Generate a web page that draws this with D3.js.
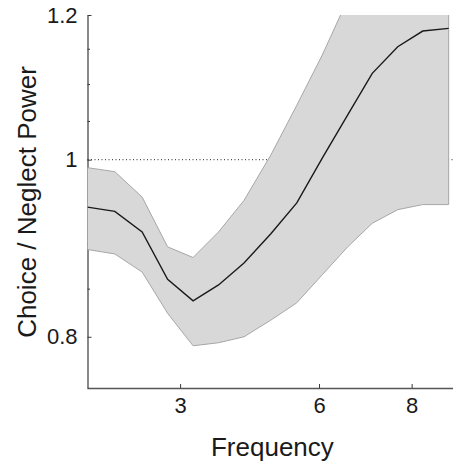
<!DOCTYPE html>
<html>
<head>
<meta charset="utf-8">
<script src="https://cdn.jsdelivr.net/npm/d3@7"></script>
<style>
  html, body { margin: 0; padding: 0; background: #fff; }
  svg { display: block; }
  text { font-family: "Liberation Sans", Arial, Helvetica, sans-serif; fill: #1a1a1a; }
</style>
</head>
<body>
<svg id="chart" width="453" height="463"></svg>
<script>
// Data
const frequency = [1.0, 1.59, 2.18, 2.73, 3.28, 3.83, 4.38, 4.96, 5.52, 6.07, 6.62, 7.15, 7.70, 8.24, 8.80];
const meanPower = [0.942, 0.937, 0.913, 0.860, 0.837, 0.854, 0.878, 0.911, 0.947, 1.002, 1.058, 1.115, 1.153, 1.176, 1.180];
const upperBound = [0.990, 0.985, 0.954, 0.896, 0.884, 0.913, 0.950, 1.006, 1.071, 1.141, 1.224, 1.30, 1.36, 1.40, 1.42];
const lowerBound = [0.893, 0.888, 0.868, 0.824, 0.791, 0.794, 0.800, 0.817, 0.835, 0.865, 0.896, 0.923, 0.939, 0.945, 0.945];
const xTicks = [3, 6, 8];
const yMajorTicks = [0.8, 1, 1.2];
const yMinorTicks = [0.85, 0.9, 0.95, 1.05, 1.1, 1.15];
const referenceLevel = 1;

const svg = d3.select("#chart");
const mLeft = 87.5, mRight = 453.3, mTop = 15, mBottom = 388;

const x = d3.scaleLinear().domain([1, 8.9]).range([mLeft, mRight]);
const y = d3.scaleLog().domain([0.75, 1.2]).range([mBottom, mTop]);

const data = frequency.map((f, i) => ({ f, m: meanPower[i], u: upperBound[i], l: lowerBound[i] }));

svg.append("defs").append("clipPath").attr("id", "clip")
  .append("rect").attr("x", mLeft).attr("y", mTop).attr("width", mRight - mLeft).attr("height", mBottom - mTop);

// Axes
const axisColor = "#3a3a3a";
const xAxis = svg.append("g").attr("transform", `translate(0,${mBottom})`)
  .call(d3.axisBottom(x).tickValues(xTicks).tickFormat(d3.format("d")).tickSizeInner(-4).tickSizeOuter(0).tickPadding(10));
xAxis.select(".domain").attr("stroke", "#555").attr("stroke-width", 1.4).attr("d", `M${mLeft},0.5H453`);
xAxis.selectAll(".tick line").attr("stroke", axisColor);
xAxis.selectAll(".tick text").attr("font-size", 22).attr("dy", "0.72em").attr("y", 9);

const yAxis = svg.append("g").attr("transform", `translate(${mLeft},0)`)
  .call(d3.axisLeft(y).tickValues(yMajorTicks).tickFormat(d => d === 1 ? "1" : d3.format(".1f")(d)).tickSizeInner(-4).tickSizeOuter(0).tickPadding(10));
yAxis.select(".domain").attr("stroke", axisColor).attr("stroke-width", 1.2);
yAxis.selectAll(".tick line").attr("stroke", axisColor);
yAxis.selectAll(".tick text").attr("font-size", 22);

const yMinor = svg.append("g").attr("transform", `translate(${mLeft},0)`)
  .call(d3.axisLeft(y).tickValues(yMinorTicks).tickFormat("").tickSizeInner(-2.5).tickSizeOuter(0));
yMinor.select(".domain").remove();
yMinor.selectAll(".tick line").attr("stroke", axisColor);

// Reference dotted line
svg.append("line")
  .attr("x1", mLeft).attr("x2", mRight)
  .attr("y1", y(referenceLevel)).attr("y2", y(referenceLevel))
  .attr("stroke", "#222").attr("stroke-width", 1).attr("stroke-dasharray", "1,2.5");

const plot = svg.append("g").attr("clip-path", "url(#clip)");

// Confidence band
plot.append("path").datum(data)
  .attr("d", d3.area().x(d => x(d.f)).y0(d => y(d.l)).y1(d => y(d.u)))
  .attr("fill", "#d8d8d8").attr("stroke", "#a6a6a6").attr("stroke-width", 1);

// Mean line
plot.append("path").datum(data)
  .attr("d", d3.line().x(d => x(d.f)).y(d => y(d.m)))
  .attr("fill", "none").attr("stroke", "#1a1a1a").attr("stroke-width", 1.4);

// Labels
svg.append("text").attr("x", (mLeft + mRight) / 2 + 2).attr("y", 456)
  .attr("text-anchor", "middle").attr("font-size", 26).text("Frequency");
svg.append("text").attr("transform", "translate(36,202) rotate(-90)")
  .attr("text-anchor", "middle").attr("font-size", 26).text("Choice / Neglect Power");
</script>
</body>
</html>
